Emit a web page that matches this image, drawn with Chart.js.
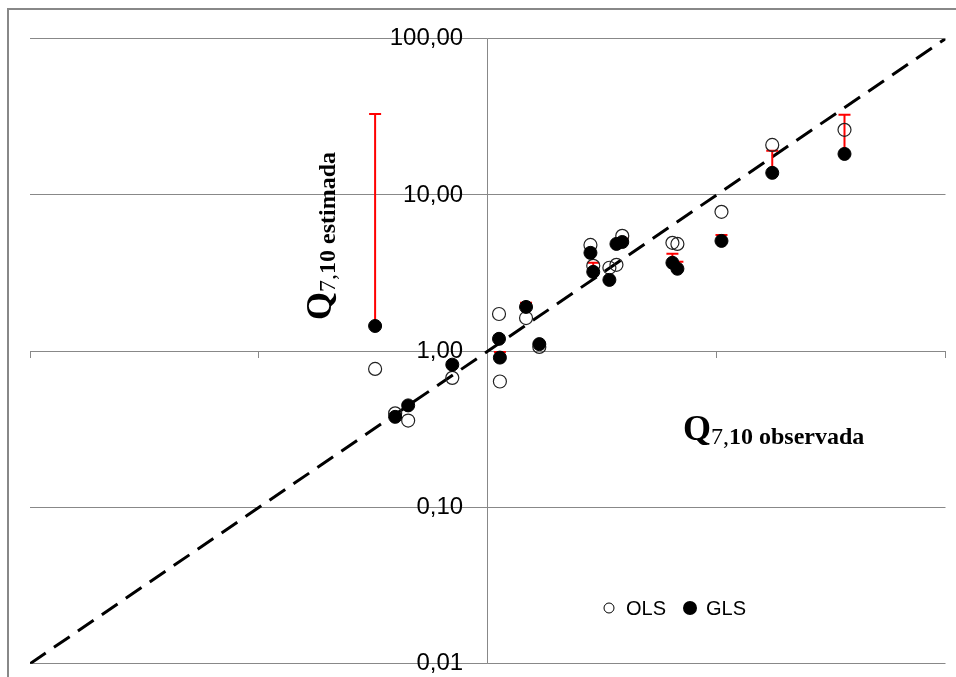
<!DOCTYPE html>
<html>
<head>
<meta charset="utf-8">
<script src="https://cdn.jsdelivr.net/npm/chart.js@4.4.1/dist/chart.umd.min.js"></script>
<style>
    body { margin: 0; background: #fff; }
    #wrap { position: relative; width: 956px; height: 677px; }
    #frame { position: absolute; left: 7px; top: 8px; right: 0; bottom: 0;
             border-left: 2px solid #888; border-top: 2px solid #888; }
    #wrap canvas { position: absolute; left: 0; top: 0; }
</style>
</head>
<body>
<div id="wrap">
    <div id="frame"></div>
    <canvas id="QChart" width="956" height="677"></canvas>
</div>
<script>
// Q7,10 observada (x) vs estimada (y), one entry per station
var obsQ = [0.322, 0.394, 0.449, 0.70, 1.12, 1.13, 1.47, 1.68, 2.81, 2.89, 3.40, 3.65, 3.87, 6.41, 6.74, 10.5, 17.5, 36.2];
var olsQ = [0.77, 0.40, 0.36, 0.675, 1.73, 0.64, 1.63, 1.065, 4.79, 3.52, 3.42, 3.57, 5.47, 4.94, 4.86, 7.80, 20.9, 26.1];
var glsQ = [1.45, 0.38, 0.45, 0.82, 1.20, 0.91, 1.92, 1.11, 4.26, 3.22, 2.86, 4.86, 5.00, 3.68, 3.37, 5.08, 13.85, 18.3];
// upper end of the red bar drawn from the GLS value (null = no bar)
var glsUpper = [33.0, null, null, null, null, 0.99, 2.04, null, null, 3.68, null, null, 5.24, 4.20, 3.73, 5.55, 19.2, 32.6];
var axisTicks = [0.01, 0.1, 1, 10, 100];
var lineQ = [0.01, 100];

// wanted plot area inside the 956x677 canvas
var plotBox = { left: 30, right: 945.5, top: 38.7, bottom: 663.7 };

function toPoints(xs, ys) {
    return xs.map(function (v, i) { return { x: v, y: ys[i] }; });
}

// red bars, drawn under the OLS and GLS markers
var errorBars = {
    id: 'errorBars',
    beforeDatasetDraw: function (chart, args) {
        if (args.index !== 1) return;
        var ctx = chart.ctx, x = chart.scales.x, y = chart.scales.y;
        ctx.save();
        ctx.strokeStyle = '#ff0000';
        ctx.lineWidth = 2;
        obsQ.forEach(function (q, i) {
            if (glsUpper[i] == null) return;
            var px = x.getPixelForValue(q);
            var y0 = y.getPixelForValue(glsQ[i]);
            var y1 = y.getPixelForValue(glsUpper[i]);
            ctx.beginPath();
            ctx.moveTo(px, y0);
            ctx.lineTo(px, y1);
            ctx.moveTo(px - 6, y1);
            ctx.lineTo(px + 6, y1);
            ctx.stroke();
        });
        ctx.restore();
    }
};

// axis titles with subscript and the legend
var labels = {
    id: 'labels',
    afterDraw: function (chart) {
        var ctx = chart.ctx;
        function title(text) {
            var x = 0;
            ctx.font = 'bold 36px "Liberation Serif"';
            ctx.fillText('Q', x, 0);
            x += ctx.measureText('Q').width;
            ctx.font = '24px "Liberation Serif"';
            ctx.fillText('7,', x, 4);
            x += ctx.measureText('7,').width;
            ctx.font = 'bold 24px "Liberation Serif"';
            ctx.fillText(text, x, 4);
        }
        ctx.save();
        ctx.fillStyle = '#000';
        ctx.textBaseline = 'alphabetic';
        ctx.textAlign = 'left';
        ctx.translate(683, 440);
        title('10 observada');
        ctx.restore();

        ctx.save();
        ctx.fillStyle = '#000';
        ctx.textBaseline = 'alphabetic';
        ctx.textAlign = 'left';
        ctx.translate(331, 320);
        ctx.rotate(-Math.PI / 2);
        title('10 estimada');
        ctx.restore();

        // legend
        ctx.save();
        ctx.fillStyle = '#000';
        ctx.strokeStyle = '#000';
        ctx.lineWidth = 1;
        ctx.beginPath();
        ctx.arc(609, 608, 5, 0, Math.PI * 2);
        ctx.stroke();
        ctx.beginPath();
        ctx.arc(690, 608, 7, 0, Math.PI * 2);
        ctx.fill();
        ctx.font = '20px "Liberation Sans"';
        ctx.textBaseline = 'middle';
        ctx.fillText('OLS', 626, 609);
        ctx.fillText('GLS', 706, 609);
        ctx.restore();
    }
};

var ctx = document.getElementById('QChart');
var chart = new Chart(ctx, {
    type: 'scatter',
    data: {
        datasets: [{
            label: 'GLS',
            data: toPoints(obsQ, glsQ),
            pointRadius: 6.5,
            pointBackgroundColor: '#000',
            pointBorderColor: '#000',
            pointBorderWidth: 1
        },
        {
            label: 'OLS',
            data: toPoints(obsQ, olsQ),
            pointRadius: 6.5,
            pointBackgroundColor: 'rgba(0,0,0,0)',
            pointBorderColor: '#222',
            pointBorderWidth: 1.2
        },
        {
            label: '1:1',
            type: 'line',
            data: toPoints(lineQ, lineQ),
            borderColor: '#000',
            borderWidth: 3,
            borderDash: [19, 10],
            pointRadius: 0,
            fill: false
        }]
    },
    options: {
        responsive: false,
        animation: false,
        layout: {
            autoPadding: false,
            padding: { left: 30, right: 10.5, top: 38.7, bottom: 13.3 }
        },
        plugins: {
            legend: { display: false },
            tooltip: { enabled: false }
        },
        scales: {
            x: {
                type: 'logarithmic',
                min: 0.01,
                max: 100,
                position: { y: 1 },
                afterBuildTicks: function (scale) {
                    scale.ticks = axisTicks.map(function (v) { return { value: v }; });
                },
                ticks: { display: false },
                grid: {
                    drawOnChartArea: true,
                    drawTicks: true,
                    tickLength: 6,
                    tickColor: '#888',
                    // only the line at 1,00 works as the vertical axis
                    color: function (c) {
                        return c.tick && c.tick.value === 1 ? '#888' : 'rgba(0,0,0,0)';
                    }
                },
                border: { display: true, color: '#888', width: 1 }
            },
            y: {
                type: 'logarithmic',
                min: 0.01,
                max: 100,
                // labels sit a little left of the vertical axis at x = 1
                position: { x: 0.781 },
                afterBuildTicks: function (scale) {
                    scale.ticks = axisTicks.map(function (v) { return { value: v }; });
                },
                ticks: {
                    color: '#000',
                    padding: 0,
                    font: { family: '"Liberation Sans"', size: 24, lineHeight: 0.8 },
                    callback: function (value) {
                        return Number(value).toFixed(2).replace('.', ',');
                    }
                },
                grid: {
                    drawTicks: false,
                    color: '#888',
                    lineWidth: 1
                },
                border: { display: false }
            }
        }
    },
    plugins: [errorBars, labels]
});

// nudge the padding until the plot area sits where the reference has it
for (var k = 0; k < 3; k++) {
    var a = chart.chartArea;
    var p = chart.config.options.layout.padding;
    chart.config.options.layout.padding = {
        left: p.left + (plotBox.left - a.left),
        right: p.right + (a.right - plotBox.right),
        top: p.top + (plotBox.top - a.top),
        bottom: p.bottom + (a.bottom - plotBox.bottom)
    };
    chart.update();
}
</script>
</body>
</html>
